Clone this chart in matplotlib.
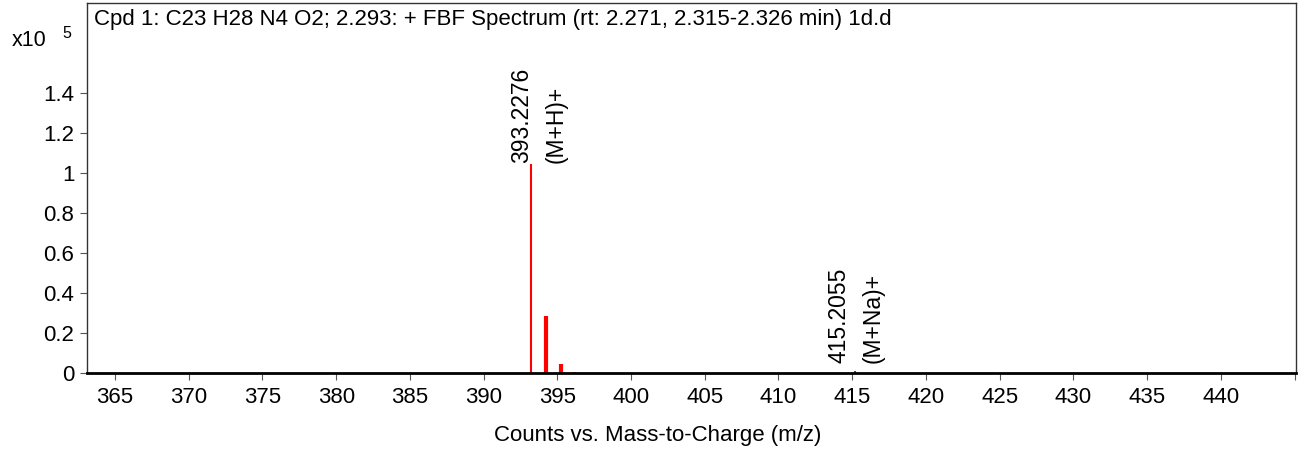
import matplotlib
matplotlib.use('Agg')
import matplotlib.pyplot as plt

plt.rcParams['font.family'] = ['Liberation Sans', 'DejaVu Sans']

# peaks: m/z and counts (x10^5)
mz = [393.2276, 394.23, 395.23, 396.23, 415.2055]
counts = [1.045, 0.285, 0.045, 0.005, 0.008]
widths = [1.5, 3.0, 3.0, 1.5, 1.5]

labels_mz = ['393.2276', '415.2055']
labels_ion = ['(M+H)+', '(M+Na)+']
label_pos = [393.2276, 415.2055]
label_h = [1.045, 0.008]
# label offsets in points (mz label, ion label, vertical)
label_off = [(-7, 18, 1), (-11.5, 13, 6)]

xticks = list(range(365, 446, 5))
yticks = [0, 0.2, 0.4, 0.6, 0.8, 1.0, 1.2, 1.4]
ytick_labels = ['0', '0.2', '0.4', '0.6', '0.8', '1', '1.2', '1.4']

title = "Cpd 1: C23 H28 N4 O2; 2.293: + FBF Spectrum (rt: 2.271, 2.315-2.326 min) 1d.d"

fig = plt.figure(figsize=(12.99, 4.5), dpi=100)
ax = fig.add_axes([87 / 1299, 1 - 373 / 450, (1296 - 87) / 1299, (373 - 3) / 450])

for x, h, w in zip(mz, counts, widths):
    ax.vlines(x, 0, h, color='#ff0000', lw=w)

for x, h, a, b, off in zip(label_pos, label_h, labels_mz, labels_ion, label_off):
    ax.annotate(a, (x, h), xytext=(off[0], off[2]), textcoords='offset points',
                rotation=90, ha='center', va='bottom', fontsize=16.5)
    ax.annotate(b, (x, h), xytext=(off[1], off[2]), textcoords='offset points',
                rotation=90, ha='center', va='bottom', fontsize=16.5)

ax.set_xlim(363.1, 445.1)
ax.set_ylim(0, 1.85)
ax.set_xticks(xticks)
ax.set_xticklabels([str(t) if t < 445 else '' for t in xticks])
ax.set_yticks(yticks)
ax.set_yticklabels(ytick_labels)
ax.tick_params(axis='both', labelsize=16, color='#555555', length=5)
ax.tick_params(axis='x', pad=5)
ax.tick_params(axis='y', pad=4)

for s in ['top', 'right', 'left']:
    ax.spines[s].set_color('#333333')
    ax.spines[s].set_linewidth(1)
ax.spines['bottom'].set_linewidth(2)
ax.spines['bottom'].set_color('black')

ax.text(0.006, 0.985, title, transform=ax.transAxes, ha='left', va='top', fontsize=16)

# axis title is centred on the figure, not on the axes
fig.text(658 / 1299, 1 - 435 / 450, 'Counts vs. Mass-to-Charge (m/z)',
         fontsize=16, ha='center', va='center')

fig.text(12 / 1299, 1 - 41 / 450, 'x10', fontsize=15.5, va='center', ha='left')
fig.text(62 / 1299, 1 - 33 / 450, '5', fontsize=11.5, va='center', ha='left')

fig.savefig('out.png', dpi=100)
